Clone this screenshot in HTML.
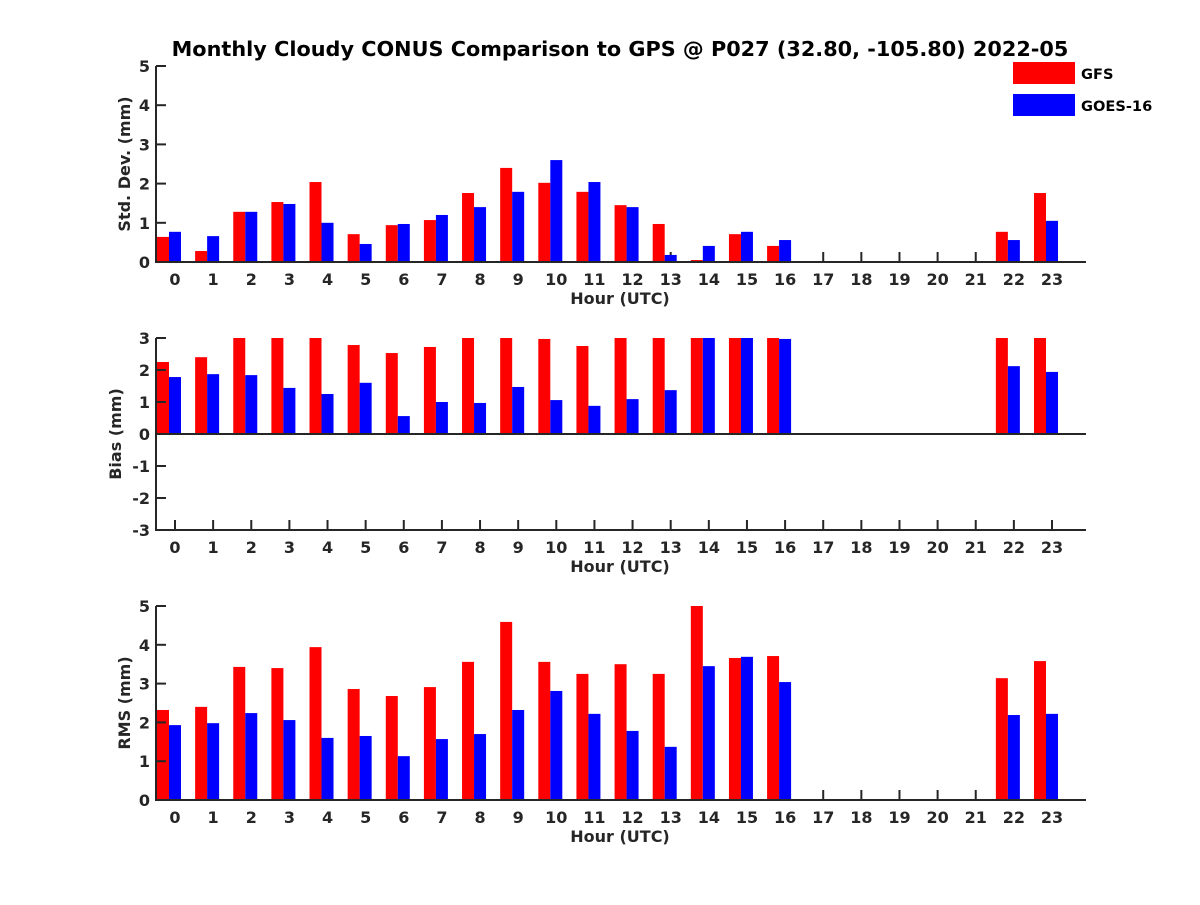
<!DOCTYPE html>
<html><head><meta charset="utf-8"><style>
body{margin:0;background:#fff}
svg text{font-family:"DejaVu Sans","Liberation Sans",sans-serif;font-weight:bold;fill:#262626}
</style></head><body>
<svg id="c" width="1200" height="900" xmlns="http://www.w3.org/2000/svg">
<rect width="1200" height="900" fill="#fff"/>
<text x="620" y="56" font-size="20.8" text-anchor="middle" style="fill:#000">Monthly Cloudy CONUS Comparison to GPS @ P027 (32.80, -105.80) 2022-05</text>
<rect x="1013" y="62" width="62" height="22" fill="#ff0000"/>
<text x="1081" y="79" font-size="14.6" style="fill:#000">GFS</text>
<rect x="1013" y="94" width="62" height="22" fill="#0000ff"/>
<text x="1081" y="111" font-size="14.6" style="fill:#000">GOES-16</text>
</svg>
<script>
const hours=[0,1,2,3,4,5,6,7,8,9,10,11,12,13,14,15,16,17,18,19,20,21,22,23];
const N=null;
const stdGFS=[0.64,0.28,1.28,1.53,2.04,0.71,0.94,1.07,1.76,2.4,2.02,1.79,1.45,0.97,0.05,0.71,0.41,N,N,N,N,N,0.77,1.76];
const stdGOES=[0.77,0.66,1.28,1.48,1.0,0.46,0.97,1.2,1.4,1.79,2.6,2.04,1.4,0.18,0.41,0.77,0.56,N,N,N,N,N,0.56,1.05];
const biasGFS=[2.25,2.4,3.2,3.2,3.2,2.78,2.53,2.72,3.2,3.2,2.97,2.75,3.2,3.2,3.2,3.2,3.2,N,N,N,N,N,3.2,3.2];
const biasGOES=[1.78,1.87,1.84,1.44,1.25,1.6,0.56,1.0,0.97,1.47,1.06,0.88,1.09,1.37,3.2,3.2,2.97,N,N,N,N,N,2.12,1.94];
const rmsGFS=[2.32,2.4,3.43,3.4,3.94,2.86,2.68,2.91,3.56,4.59,3.56,3.25,3.5,3.25,5.0,3.66,3.71,N,N,N,N,N,3.14,3.58];
const rmsGOES=[1.93,1.98,2.24,2.06,1.6,1.65,1.13,1.57,1.7,2.32,2.81,2.22,1.78,1.37,3.45,3.69,3.04,N,N,N,N,N,2.19,2.22];
const stdTicks=[0,1,2,3,4,5], biasTicks=[-3,-2,-1,0,1,2,3], rmsTicks=[0,1,2,3,4,5];
const svg=document.getElementById('c');const NS='http://www.w3.org/2000/svg';
function mk(t,a){const e=document.createElementNS(NS,t);for(const k in a)e.setAttribute(k,a[k]);svg.appendChild(e);return e;}
const X0=156,X1=1086;
const xs=h=>175+h*(1052-175)/23;
function panel(id,top,bot,ymin,ymax,ticks,ylabel,g,b){
  const ys=v=>bot-(v-ymin)/(ymax-ymin)*(bot-top);
  const cid='clip'+id;
  const d=mk('clipPath',{id:cid});const r=document.createElementNS(NS,'rect');
  r.setAttribute('x',X0);r.setAttribute('y',top);r.setAttribute('width',X1-X0);r.setAttribute('height',bot-top);d.appendChild(r);
  hours.forEach(h=>{
    mk('line',{x1:xs(h),x2:xs(h),y1:bot,y2:bot-10,stroke:'#262626','stroke-width':2});
    const t=mk('text',{x:xs(h),y:bot+23,'font-size':16,'text-anchor':'middle'});t.textContent=h;
    
  });
  hours.forEach((h,i)=>{
    [[g[i],'#ff0000',-12,'gfs'],[b[i],'#0000ff',0,'goes']].forEach(([v,c,o,n])=>{
      if(v==null)return;
      const y0=ys(0),y1=ys(v);
      const e=mk('rect',{x:xs(h)-6+o,y:Math.min(y0,y1),width:12,height:Math.abs(y1-y0),fill:c,'clip-path':'url(#'+cid+')'});
      
      
    });
  });
  const z=ys(0);
  let e=mk('line',{x1:X0,x2:X1,y1:z,y2:z,stroke:'#262626','stroke-width':2});
  
  e=mk('line',{x1:X0,x2:X1,y1:bot,y2:bot,stroke:'#262626','stroke-width':2});
  
  e=mk('line',{x1:X0,x2:X0,y1:top,y2:bot+1,stroke:'#262626','stroke-width':2});
  
  ticks.forEach(v=>{
    mk('line',{x1:X0,x2:X0+10,y1:ys(v),y2:ys(v),stroke:'#262626','stroke-width':2});
    const t=mk('text',{x:X0-6,y:ys(v)+6,'font-size':16,'text-anchor':'end'});t.textContent=v;
    
  });
  let t=mk('text',{x:(X0+X1)/2-1,y:bot+42,'font-size':16,'text-anchor':'middle'});t.textContent='Hour (UTC)';
  
  const cy=(top+bot)/2;
  t=mk('text',{x:0,y:0,'font-size':16,'text-anchor':'middle',transform:'translate('+(id=='bias'?121:130)+','+cy+') rotate(-90)'});t.textContent=ylabel;
  
}
panel('std',66,262,0,5,stdTicks,'Std. Dev. (mm)',stdGFS,stdGOES);
panel('bias',338,530,-3,3,biasTicks,'Bias (mm)',biasGFS,biasGOES);
panel('rms',606,800,0,5,rmsTicks,'RMS (mm)',rmsGFS,rmsGOES);
</script>
</body></html>
